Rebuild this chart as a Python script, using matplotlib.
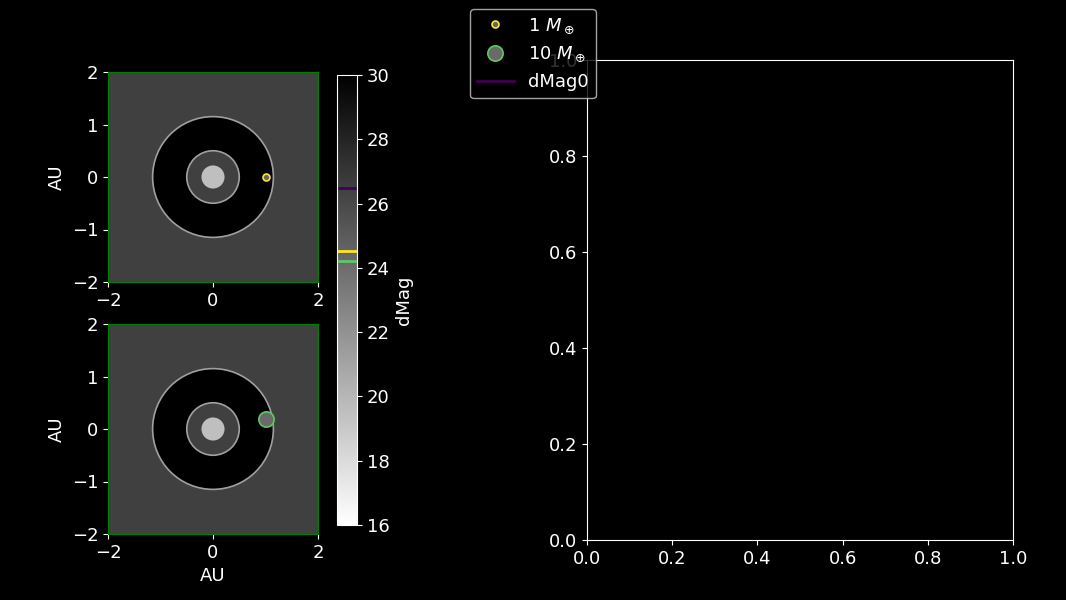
import numpy as np
import matplotlib
matplotlib.use('Agg')
import matplotlib.pyplot as plt
from matplotlib.patches import Circle, Rectangle
from matplotlib.colors import Normalize
from matplotlib.cm import ScalarMappable

plt.style.use('dark_background')
plt.rcParams['font.size'] = 13

# values
dmag_min, dmag_max = 16, 30
dmag0 = 26.48
star_dmag = 19.5
iwa_au = 0.5          # inner working angle
owa_au = 1.15         # outer working angle
star_au = 0.22
planet_labels = [r'1 $M_\oplus$', r'10 $M_\oplus$']
planet_x = [1.0, 1.0]
planet_y = [0.0, 0.19]
planet_dmag = [24.51, 24.2]
planet_size = [5, 11]
planet_edge = ['#fde725', '#5ec962']
dmag0_color = '#440154'
cbar_ticks = [16, 18, 20, 22, 24, 26, 28, 30]
lim = 2

cmap = plt.get_cmap('gray_r')
norm = Normalize(vmin=dmag_min, vmax=dmag_max)

fig = plt.figure(figsize=(10.66, 6), dpi=100)
W, H = 1066, 600

def px_axes(x0, y0, x1, y1):
    return fig.add_axes([x0 / W, 1 - y1 / H, (x1 - x0) / W, (y1 - y0) / H])

ax_top = px_axes(108, 72, 318, 282)
ax_bot = px_axes(108, 324, 318, 534)
cax = px_axes(337, 75, 357, 525)
ax_r = px_axes(587, 60, 1013, 540)

handles = []
for i, ax in enumerate([ax_top, ax_bot]):
    ax.add_patch(Rectangle((-lim, -lim), 2 * lim, 2 * lim, color=cmap(norm(dmag0)), zorder=0))
    ax.add_patch(Circle((0, 0), owa_au, facecolor=cmap(norm(dmag_max)), edgecolor='#a0a0a0', lw=1.2, zorder=1))
    ax.add_patch(Circle((0, 0), iwa_au, facecolor=cmap(norm(dmag0)), edgecolor='#a0a0a0', lw=1.2, zorder=2))
    ax.add_patch(Circle((0, 0), star_au, facecolor=cmap(norm(star_dmag)), edgecolor='none', zorder=3))
    h, = ax.plot(planet_x[i], planet_y[i], 'o', ms=planet_size[i],
                 mfc=cmap(norm(planet_dmag[i])), mec=planet_edge[i], mew=1.2,
                 ls='none', zorder=4, label=planet_labels[i])
    handles.append(h)
    ax.set_xlim(-lim, lim)
    ax.set_ylim(-lim, lim)
    ax.set_aspect('equal')
    ax.set_xticks([-2, 0, 2])
    ax.set_yticks([-2, -1, 0, 1, 2])
    ax.set_ylabel('AU')
    for s in ax.spines.values():
        s.set_color('green')
ax_bot.set_xlabel('AU')

sm = ScalarMappable(norm=norm, cmap=cmap)
cb = fig.colorbar(sm, cax=cax)
cb.set_ticks(cbar_ticks)
cb.set_label('dMag')
cb.outline.set_edgecolor('white')
for i in range(2):
    cax.axhline(planet_dmag[i], color=planet_edge[i], lw=2)
line0 = cax.axhline(dmag0, color=dmag0_color, lw=2, label='dMag0')
handles.append(line0)

fig.legend(handles=handles, labels=[h.get_label() for h in handles],
           loc='upper center', bbox_to_anchor=(0.5, 1.0))

fig.savefig('out.png', dpi=100, facecolor='black')
